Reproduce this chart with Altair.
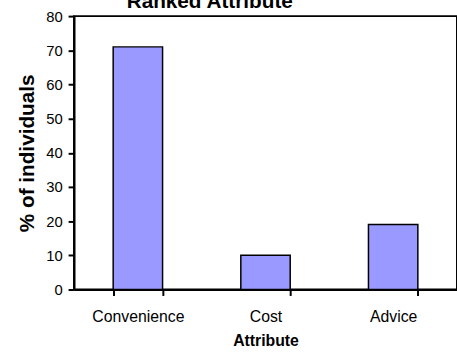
import altair as alt
import pandas as pd

categories = ["Convenience", "Cost", "Advice"]
values = [71, 10, 19]
title_text = "Ranked Attribute"

df = pd.DataFrame({"Attribute": categories, "pct": values})

FONT = "Liberation Sans"

x_scale = alt.Scale(paddingInner=0.613, paddingOuter=0.3067)
y_scale = alt.Scale(domain=[0, 80], nice=False)

bars = alt.Chart(df).mark_bar(
    color="#9999FF", stroke="black", strokeWidth=1.5
).encode(
    x=alt.X(
        "Attribute:N",
        sort=None,
        scale=x_scale,
        axis=alt.Axis(
            title="Attribute",
            labelAngle=0,
            labelFont=FONT,
            labelFontSize=16,
            labelColor="black",
            labelBaseline="alphabetic",
            labelPadding=26,
            tickBand="extent",
            tickSize=6,
            tickWidth=2,
            tickColor="black",
            domainColor="black",
            domainWidth=2,
            titleFont=FONT,
            titleFontSize=16,
            titleFontWeight="bold",
            titleColor="black",
            titleBaseline="alphabetic",
            titleY=57,
        ),
    ),
    y=alt.Y(
        "pct:Q",
        scale=y_scale,
        axis=alt.Axis(
            title="% of individuals",
            values=[0, 10, 20, 30, 40, 50, 60, 70, 80],
            grid=False,
            labelFont=FONT,
            labelFontSize=15,
            labelColor="black",
            labelPadding=6,
            tickSize=6,
            tickWidth=2,
            tickColor="black",
            domainColor="black",
            domainWidth=2,
            titleFont=FONT,
            titleFontSize=21,
            titleFontWeight="bold",
            titleColor="black",
            titleAngle=-90,
            titleBaseline="alphabetic",
            titleX=-41,
            titleY=138.5,
        ),
    ),
)

# invisible layer carrying a top axis whose title acts as the chart title
top = alt.Chart(df).mark_bar(opacity=0).encode(
    x=alt.X(
        "Attribute:N",
        sort=None,
        scale=x_scale,
        axis=alt.Axis(
            orient="top",
            title=title_text,
            labels=False,
            ticks=False,
            domain=False,
            grid=False,
            titleFont=FONT,
            titleFontSize=21,
            titleFontWeight="bold",
            titleColor="black",
            titleBaseline="alphabetic",
            titleAlign="center",
            titleX=137,
            titleY=-9,
        ),
    ),
)

chart = alt.layer(bars, top).resolve_axis(x="independent").properties(
    width=388,
    height=277,
    autosize=alt.AutoSizeParams(type="none"),
    padding={"left": 75, "top": 14, "right": 0, "bottom": 65},
).configure(
    background="white"
).configure_view(
    stroke="black", strokeWidth=2
)

chart.save("out.html", embed_options={"renderer": "svg", "actions": False})
